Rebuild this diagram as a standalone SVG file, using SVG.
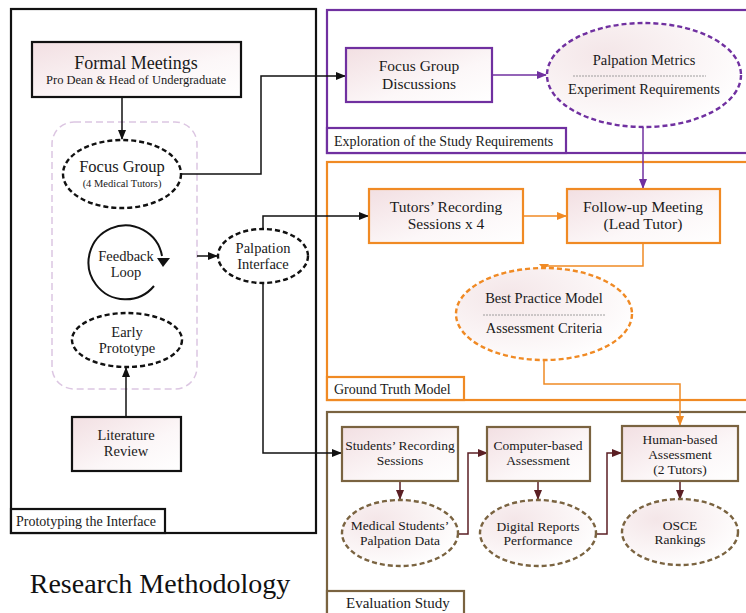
<svg xmlns="http://www.w3.org/2000/svg" width="746" height="613" viewBox="0 0 746 613" font-family="Liberation Serif">
<defs>
<linearGradient id="bg" x1="0" y1="0" x2="1" y2="1">
<stop offset="0" stop-color="#f2dfe2"/><stop offset="0.6" stop-color="#fcf7f8"/><stop offset="1" stop-color="#ffffff"/>
</linearGradient>
<radialGradient id="rg" cx="0.3" cy="0.3" r="0.8">
<stop offset="0" stop-color="#f4e6e8"/><stop offset="1" stop-color="#ffffff"/>
</radialGradient>
<marker id="aK" markerWidth="10" markerHeight="8" refX="9" refY="4" orient="auto" markerUnits="userSpaceOnUse"><path d="M0,0L10,4L0,8z" fill="#111"/></marker>
<marker id="aP" markerWidth="10" markerHeight="8" refX="9" refY="4" orient="auto" markerUnits="userSpaceOnUse"><path d="M0,0L10,4L0,8z" fill="#7030A0"/></marker>
<marker id="aO" markerWidth="10" markerHeight="8" refX="9" refY="4" orient="auto" markerUnits="userSpaceOnUse"><path d="M0,0L10,4L0,8z" fill="#F08A24"/></marker>
<marker id="aR" markerWidth="10" markerHeight="8" refX="9" refY="4" orient="auto" markerUnits="userSpaceOnUse"><path d="M0,0L10,4L0,8z" fill="#5B1F24"/></marker>
</defs>
<rect width="746" height="613" fill="#fff"/>

<!-- Panels -->
<g id="panel-prototyping" stroke="#111" stroke-width="2.2">
<rect x="11" y="9" width="305" height="524" fill="none"/>
<rect x="11" y="509" width="154" height="24" fill="#fff"/>
<text x="16" y="526" font-family="Liberation Serif" font-size="14" fill="#1a1a1a" stroke="none">Prototyping the Interface</text>
</g>
<g id="panel-exploration" stroke="#7030A0" stroke-width="2.2">
<rect x="327" y="10" width="430" height="143" fill="none"/>
<rect x="327" y="128" width="239" height="25" fill="#fff"/>
<text x="334" y="146" font-family="Liberation Serif" font-size="14" fill="#1a1a1a" stroke="none">Exploration of the Study Requirements</text>
</g>
<g id="panel-groundtruth" stroke="#F08A24" stroke-width="2.2">
<rect x="327" y="162" width="430" height="238" fill="none"/>
<rect x="327" y="377" width="137" height="23" fill="#fff"/>
<text x="334" y="394" font-family="Liberation Serif" font-size="14" fill="#1a1a1a" stroke="none">Ground Truth Model</text>
</g>
<g id="panel-evaluation" stroke="#7A6340" stroke-width="2.2">
<rect x="327" y="412" width="430" height="220" fill="none"/>
<rect x="327" y="591" width="137" height="30" fill="#fff"/>
<text x="346" y="608" font-family="Liberation Serif" font-size="15" fill="#1a1a1a" stroke="none">Evaluation Study</text>
</g>

<rect x="52" y="122" width="145" height="267" rx="22" fill="none" stroke="#dcc6e2" stroke-width="1.5" stroke-dasharray="7 4"/>

<!-- Connectors -->
<g id="connectors" fill="none" stroke-width="1.5">
<g stroke="#111" marker-end="url(#aK)">
<path d="M122,97V139"/>
<path d="M182,174H261V76H345"/>
<path d="M197,256H217"/>
<path d="M263,229V216H368"/>
<path d="M263,283V453H341"/>
<path d="M126,417V368"/>
</g>
<g stroke="#7030A0" marker-end="url(#aP)">
<path d="M492,75H546"/>
<path d="M643,127V188"/>
</g>
<g stroke="#F08A24">
<path d="M523,216H566" marker-end="url(#aO)"/>
<path d="M643,243V266H544V268"/>
<path d="M544,360V384H680V425" marker-end="url(#aO)"/>
</g>
<path d="M539,264L549,264L544,270z" fill="#F08A24"/>
<g stroke="#5B1F24" marker-end="url(#aR)">
<path d="M400,481V499"/>
<path d="M459,534H468V453H487"/>
<path d="M538,481V499"/>
<path d="M597,534H607V453H621"/>
<path d="M680,481V499"/>
</g>
</g>

<!-- Nodes -->
<g id="formal-meetings" font-family="Liberation Serif" text-anchor="middle" fill="#1a1a1a">
<rect x="32" y="42" width="209" height="55" fill="url(#bg)" stroke="#111" stroke-width="2.2"/>
<text x="136" y="69" font-family="Liberation Serif" font-size="18">Formal Meetings</text>
<text x="136" y="84" font-family="Liberation Serif" font-size="12.5">Pro Dean &amp; Head of Undergraduate</text>
</g>
<g id="focus-group" font-family="Liberation Serif" text-anchor="middle" fill="#1a1a1a">
<ellipse cx="122" cy="174" rx="59" ry="34" fill="#fff" stroke="#111" stroke-width="2.4" stroke-dasharray="5 3"/>
<text x="122" y="172" font-family="Liberation Serif" font-size="16.5">Focus Group</text>
<text x="122" y="187" font-family="Liberation Serif" font-size="10.5">(4 Medical Tutors)</text>
</g>
<g id="feedback-loop" font-family="Liberation Serif" text-anchor="middle" fill="#1a1a1a">
<path d="M154,286A37,37 0 1 1 162,256" fill="none" stroke="#111" stroke-width="2"/>
<path d="M157,258L170,258L163,267z" fill="#111"/>
<text x="126" y="261" font-family="Liberation Serif" font-size="14.5">Feedback</text>
<text x="126" y="277" font-family="Liberation Serif" font-size="14.5">Loop</text>
</g>
<g id="palpation-interface" font-family="Liberation Serif" text-anchor="middle" fill="#1a1a1a">
<ellipse cx="263" cy="256" rx="45" ry="27" fill="#fff" stroke="#111" stroke-width="2.4" stroke-dasharray="5 3"/>
<text x="263" y="253" font-family="Liberation Serif" font-size="14.5">Palpation</text>
<text x="263" y="269" font-family="Liberation Serif" font-size="14.5">Interface</text>
</g>
<g id="early-prototype" font-family="Liberation Serif" text-anchor="middle" fill="#1a1a1a">
<ellipse cx="127" cy="340" rx="55" ry="27" fill="#fff" stroke="#111" stroke-width="2.4" stroke-dasharray="5 3"/>
<text x="127" y="337" font-family="Liberation Serif" font-size="14.5">Early</text>
<text x="127" y="353" font-family="Liberation Serif" font-size="14.5">Prototype</text>
</g>
<g id="literature-review" font-family="Liberation Serif" text-anchor="middle" fill="#1a1a1a">
<rect x="72" y="417" width="109" height="54" fill="url(#bg)" stroke="#111" stroke-width="2.2"/>
<text x="126" y="440" font-family="Liberation Serif" font-size="14.5">Literature</text>
<text x="126" y="456" font-family="Liberation Serif" font-size="14.5">Review</text>
</g>
<g id="focus-group-discussions" font-family="Liberation Serif" text-anchor="middle" fill="#1a1a1a">
<rect x="346" y="48" width="146" height="54" fill="url(#bg)" stroke="#7030A0" stroke-width="2.2"/>
<text x="419" y="71" font-family="Liberation Serif" font-size="15.5">Focus Group</text>
<text x="419" y="89" font-family="Liberation Serif" font-size="15.5">Discussions</text>
</g>
<g id="palpation-metrics" font-family="Liberation Serif" text-anchor="middle" fill="#1a1a1a">
<ellipse cx="644" cy="75" rx="97" ry="52" fill="url(#rg)" stroke="#7030A0" stroke-width="2.4" stroke-dasharray="5 3"/>
<text x="644" y="65" font-family="Liberation Serif" font-size="14.5">Palpation Metrics</text>
<line x1="573" y1="76" x2="706" y2="76" stroke="#888" stroke-width="0.8" stroke-dasharray="2 1"/>
<text x="644" y="94" font-family="Liberation Serif" font-size="14.5">Experiment Requirements</text>
</g>
<g id="tutors-recording" font-family="Liberation Serif" text-anchor="middle" fill="#1a1a1a">
<rect x="369" y="189" width="154" height="54" fill="url(#bg)" stroke="#F08A24" stroke-width="2.2"/>
<text x="446" y="212" font-family="Liberation Serif" font-size="15.5">Tutors’ Recording</text>
<text x="446" y="229" font-family="Liberation Serif" font-size="15.5">Sessions x 4</text>
</g>
<g id="follow-up-meeting" font-family="Liberation Serif" text-anchor="middle" fill="#1a1a1a">
<rect x="567" y="189" width="153" height="54" fill="url(#bg)" stroke="#F08A24" stroke-width="2.2"/>
<text x="643" y="212" font-family="Liberation Serif" font-size="15.5">Follow-up Meeting</text>
<text x="643" y="229" font-family="Liberation Serif" font-size="15.5">(Lead Tutor)</text>
</g>
<g id="best-practice-model" font-family="Liberation Serif" text-anchor="middle" fill="#1a1a1a">
<ellipse cx="544" cy="314" rx="88" ry="46" fill="url(#rg)" stroke="#F08A24" stroke-width="2.4" stroke-dasharray="5 3"/>
<text x="544" y="303" font-family="Liberation Serif" font-size="14.5">Best Practice Model</text>
<line x1="483" y1="315" x2="606" y2="315" stroke="#888" stroke-width="0.8" stroke-dasharray="2 1"/>
<text x="544" y="333" font-family="Liberation Serif" font-size="14.5">Assessment Criteria</text>
</g>
<g id="students-recording" font-family="Liberation Serif" text-anchor="middle" fill="#1a1a1a">
<rect x="342" y="427" width="116" height="54" fill="url(#bg)" stroke="#7A6340" stroke-width="2.2"/>
<text x="400" y="450" font-family="Liberation Serif" font-size="13.5">Students’ Recording</text>
<text x="400" y="465" font-family="Liberation Serif" font-size="13.5">Sessions</text>
</g>
<g id="medical-students-data" font-family="Liberation Serif" text-anchor="middle" fill="#1a1a1a">
<ellipse cx="400" cy="533" rx="58" ry="33" fill="url(#rg)" stroke="#7A6340" stroke-width="2.4" stroke-dasharray="5 3"/>
<text x="400" y="530" font-family="Liberation Serif" font-size="13.5">Medical Students’</text>
<text x="400" y="545" font-family="Liberation Serif" font-size="13.5">Palpation Data</text>
</g>
<g id="computer-based" font-family="Liberation Serif" text-anchor="middle" fill="#1a1a1a">
<rect x="487" y="427" width="103" height="54" fill="url(#bg)" stroke="#7A6340" stroke-width="2.2"/>
<text x="538" y="450" font-family="Liberation Serif" font-size="13.5">Computer-based</text>
<text x="538" y="465" font-family="Liberation Serif" font-size="13.5">Assessment</text>
</g>
<g id="digital-reports" font-family="Liberation Serif" text-anchor="middle" fill="#1a1a1a">
<ellipse cx="538" cy="533" rx="58" ry="33" fill="url(#rg)" stroke="#7A6340" stroke-width="2.4" stroke-dasharray="5 3"/>
<text x="538" y="531" font-family="Liberation Serif" font-size="13.5">Digital Reports</text>
<text x="538" y="545" font-family="Liberation Serif" font-size="13.5">Performance</text>
</g>
<g id="human-based" font-family="Liberation Serif" text-anchor="middle" fill="#1a1a1a">
<rect x="622" y="426" width="116" height="55" fill="url(#bg)" stroke="#7A6340" stroke-width="2.2"/>
<text x="680" y="444" font-family="Liberation Serif" font-size="13.5">Human-based</text>
<text x="680" y="459" font-family="Liberation Serif" font-size="13.5">Assessment</text>
<text x="680" y="474" font-family="Liberation Serif" font-size="13.5">(2 Tutors)</text>
</g>
<g id="osce-rankings" font-family="Liberation Serif" text-anchor="middle" fill="#1a1a1a">
<ellipse cx="680" cy="532" rx="58" ry="33" fill="url(#rg)" stroke="#7A6340" stroke-width="2.4" stroke-dasharray="5 3"/>
<text x="680" y="530" font-family="Liberation Serif" font-size="13.5">OSCE</text>
<text x="680" y="544" font-family="Liberation Serif" font-size="13.5">Rankings</text>
</g>

<text x="160" y="593" font-size="28" font-family="Liberation Serif" text-anchor="middle" fill="#111">Research Methodology</text>
</svg>
